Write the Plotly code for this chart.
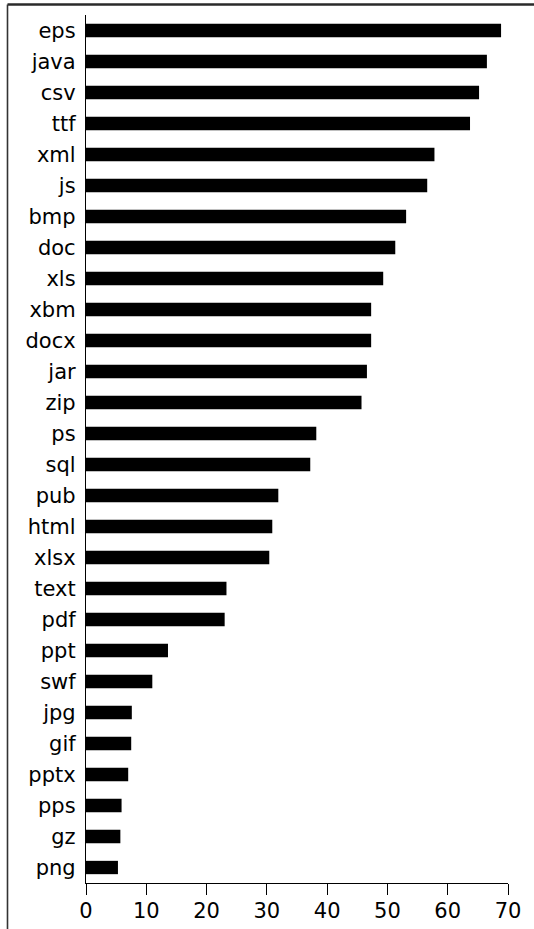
import plotly.graph_objects as go

categories = ["eps", "java", "csv", "ttf", "xml", "js", "bmp", "doc", "xls", "xbm",
              "docx", "jar", "zip", "ps", "sql", "pub", "html", "xlsx", "text", "pdf",
              "ppt", "swf", "jpg", "gif", "pptx", "pps", "gz", "png"]
values = [68.85, 66.5, 65.2, 63.7, 57.8, 56.6, 53.1, 51.3, 49.3, 47.3,
          47.3, 46.6, 45.7, 38.2, 37.2, 31.9, 30.9, 30.4, 23.3, 23.0,
          13.6, 11.0, 7.6, 7.5, 7.0, 5.9, 5.7, 5.3]
x_ticks = [0, 10, 20, 30, 40, 50, 60, 70]

W, H = 534, 929
L, R, T, B = 86, 26, 15, 46
pw, ph = W - L - R, H - T - B

def px_to_paper_x(px):
    return (px - L) / pw

def px_to_paper_y(py):
    return (H - B - py) / ph

fig = go.Figure(go.Bar(
    x=values, y=categories, orientation="h",
    marker=dict(color="black", line=dict(width=0)),
    width=0.43,
))

fig.update_layout(
    width=W, height=H,
    margin=dict(l=L, r=R, t=T, b=B, pad=0),
    plot_bgcolor="white", paper_bgcolor="white",
    showlegend=False,
    font=dict(family="DejaVu Sans", size=21, color="black"),
    xaxis=dict(
        range=[0, 70], tickvals=x_ticks, ticks="outside", ticklen=11, tickwidth=1.3,
        tickcolor="black", showline=True, linecolor="black", linewidth=1.3,
        showgrid=False, zeroline=False, tickfont=dict(size=21), automargin=False,
        ticklabelstandoff=-2,
    ),
    yaxis=dict(
        categoryorder="array", categoryarray=categories[::-1],
        range=[-0.5, len(categories) - 0.5],
        showline=True, linecolor="black", linewidth=1.3, showgrid=False,
        zeroline=False, ticks="", ticklabelstandoff=5, tickfont=dict(size=21),
        automargin=False,
    ),
    shapes=[
        dict(type="line", xref="paper", yref="paper", layer="above",
             x0=px_to_paper_x(7.5), x1=px_to_paper_x(W),
             y0=px_to_paper_y(4.5), y1=px_to_paper_y(4.5),
             line=dict(color="#2a2a2a", width=2.5)),
        dict(type="line", xref="paper", yref="paper", layer="above",
             x0=px_to_paper_x(7.5), x1=px_to_paper_x(7.5),
             y0=px_to_paper_y(H), y1=px_to_paper_y(4.5),
             line=dict(color="#333333", width=1.6)),
    ],
)

fig.write_html(
    "out.html",
    config={"displayModeBar": False},
    post_script="document.body.style.margin='0';document.body.style.overflow='hidden';",
)
